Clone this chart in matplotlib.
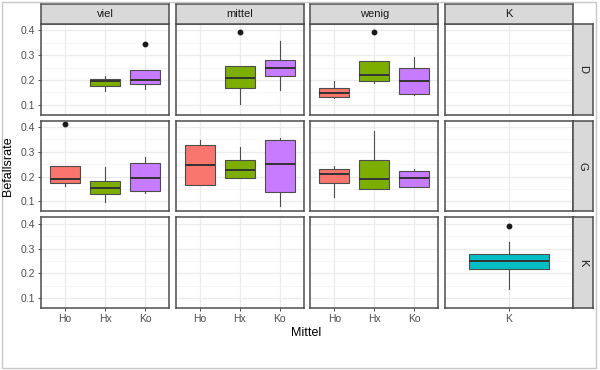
import matplotlib
matplotlib.use("Agg")
import matplotlib.pyplot as plt
from matplotlib.patches import Rectangle

plt.rcParams["font.family"] = ["Liberation Sans", "DejaVu Sans"]

# facet layout
row_levels = ["D", "G", "K"]
col_levels = ["viel", "mittel", "wenig", "K"]
col_cats = {"viel": ["Ho", "Hx", "Ko"], "mittel": ["Ho", "Hx", "Ko"],
            "wenig": ["Ho", "Hx", "Ko"], "K": ["K"]}
fill_colors = {"Ho": "#F8766D", "Hx": "#7CAE00", "Ko": "#C77CFF", "K": "#00BFC4"}

# box statistics
box_row = ["D", "D", "D", "D", "D", "D", "D",
           "G", "G", "G", "G", "G", "G", "G", "G", "G",
           "K"]
box_col = ["viel", "viel", "mittel", "mittel", "wenig", "wenig", "wenig",
           "viel", "viel", "viel", "mittel", "mittel", "mittel", "wenig", "wenig", "wenig",
           "K"]
box_cat = ["Hx", "Ko", "Hx", "Ko", "Ho", "Hx", "Ko",
           "Ho", "Hx", "Ko", "Ho", "Hx", "Ko", "Ho", "Hx", "Ko",
           "K"]
whis_lo = [0.154, 0.164, 0.105, 0.160, 0.126, 0.187, 0.141,
           0.161, 0.099, 0.133, 0.165, 0.196, 0.082, 0.117, 0.152, 0.160,
           0.137]
q1 = [0.176, 0.183, 0.169, 0.218, 0.131, 0.196, 0.145,
      0.174, 0.130, 0.141, 0.165, 0.196, 0.137, 0.1745, 0.152, 0.160,
      0.218]
median = [0.194, 0.200, 0.206, 0.248, 0.148, 0.222, 0.194,
          0.189, 0.154, 0.196, 0.246, 0.2255, 0.252, 0.212, 0.192, 0.193,
          0.249]
q3 = [0.2045, 0.240, 0.256, 0.280, 0.1665, 0.275, 0.250,
      0.244, 0.1825, 0.254, 0.326, 0.268, 0.348, 0.231, 0.266, 0.223,
      0.279]
whis_hi = [0.218, 0.242, 0.256, 0.359, 0.195, 0.275, 0.293,
           0.244, 0.240, 0.279, 0.348, 0.321, 0.357, 0.244, 0.384, 0.231,
           0.326]
outliers = [[], [0.347], [0.392], [], [], [0.392], [],
            [0.411], [], [], [], [], [], [], [], [],
            [0.39]]

fig = plt.figure(figsize=(6, 3.7), dpi=100)
W, H = 600, 370


def px_axes(x0, y0, x1, y1):
    return fig.add_axes([x0 / W, 1 - y1 / H, (x1 - x0) / W, (y1 - y0) / H])


left, right = 41, 573
top, bottom = 24, 308
gap = 6.5
pw = (right - left - 3 * gap) / 4
ph = (bottom - top - 2 * 6) / 3
dark = "#333333"
border = "#4D4D4D"

for ri, rlev in enumerate(row_levels):
    for ci, clev in enumerate(col_levels):
        x0 = left + ci * (pw + gap)
        y0 = top + ri * (ph + 6)
        ax = px_axes(x0, y0, x0 + pw, y0 + ph)
        cats = col_cats[clev]
        stats, pos, cols = [], [], []
        for i in range(len(box_cat)):
            if box_row[i] == rlev and box_col[i] == clev:
                stats.append(dict(med=median[i], q1=q1[i], q3=q3[i],
                                  whislo=whis_lo[i], whishi=whis_hi[i],
                                  fliers=outliers[i]))
                pos.append(cats.index(box_cat[i]) + 1)
                cols.append(fill_colors[box_cat[i]])
        if stats:
            bp = ax.bxp(stats, positions=pos, widths=0.75, patch_artist=True,
                        showcaps=False, manage_ticks=False,
                        boxprops=dict(edgecolor=border, linewidth=0.8),
                        medianprops=dict(color=dark, linewidth=1.4),
                        whiskerprops=dict(color=border, linewidth=0.8),
                        flierprops=dict(marker="o", markersize=3.2,
                                        markerfacecolor="#1A1A1A",
                                        markeredgecolor="#1A1A1A"))
            for patch, c in zip(bp["boxes"], cols):
                patch.set_facecolor(c)
        ax.set_xlim(0.4, len(cats) + 0.6)
        ax.set_ylim(0.06, 0.426)
        ax.set_xticks(range(1, len(cats) + 1))
        ax.set_yticks([0.1, 0.2, 0.3, 0.4])
        ax.set_yticks([0.15, 0.25, 0.35], minor=True)
        ax.grid(True, which="major", color="#EBEBEB", linewidth=0.9)
        ax.grid(True, which="minor", axis="y", color="#F2F2F2", linewidth=0.5)
        ax.set_axisbelow(True)
        for sp in ax.spines.values():
            sp.set_color(border)
            sp.set_linewidth(1.1)
        ax.tick_params(which="minor", length=0)
        ax.tick_params(which="major", length=2.5, color=dark, width=0.6,
                       labelsize=7.5, labelcolor="#4D4D4D", pad=2)
        if ri == len(row_levels) - 1:
            ax.set_xticklabels(cats)
        else:
            ax.tick_params(axis="x", length=0, labelbottom=False)
        if ci == 0:
            ax.set_yticklabels(["0.1", "0.2", "0.3", "0.4"])
        else:
            ax.tick_params(axis="y", length=0, labelleft=False)

        # column strip
        if ri == 0:
            sax = px_axes(x0, 4, x0 + pw, top)
            sax.set_facecolor("#D9D9D9")
            sax.set_xticks([])
            sax.set_yticks([])
            for sp in sax.spines.values():
                sp.set_color(border)
                sp.set_linewidth(1.1)
            sax.text(0.5, 0.5, clev, ha="center", va="center", fontsize=8,
                     color="#1A1A1A", transform=sax.transAxes)
    # row strip
    y0 = top + ri * (ph + 6)
    sax = px_axes(right, y0, 593, y0 + ph)
    sax.set_facecolor("#D9D9D9")
    sax.set_xticks([])
    sax.set_yticks([])
    for sp in sax.spines.values():
        sp.set_color(border)
        sp.set_linewidth(1.1)
    sax.text(0.5, 0.5, rlev, ha="center", va="center", fontsize=8,
             rotation=-90, color="#1A1A1A", transform=sax.transAxes)

fig.text(8 / W, 1 - 166 / H, "Befallsrate", rotation=90, ha="center",
         va="center", fontsize=9, color="black")
fig.text(306 / W, 1 - 333 / H, "Mittel", ha="center", va="center",
         fontsize=9, color="black")

fig.patches.append(Rectangle((2 / W, 2 / H), 594 / W, 366 / H, fill=False,
                             edgecolor="#C8C8C8", linewidth=1.0,
                             transform=fig.transFigure))

fig.savefig("out.png", dpi=100)
